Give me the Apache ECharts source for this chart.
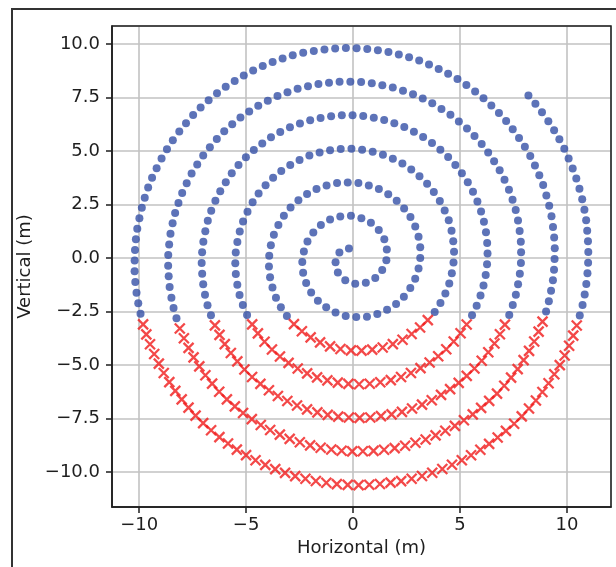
<!DOCTYPE html>
<html>
<head>
<meta charset="utf-8">
<script src="https://cdn.jsdelivr.net/npm/echarts@6/dist/echarts.min.js"></script>
<style>
    html, body { margin: 0; padding: 0; background: #fff; }
    #chart { width: 616px; height: 567px; }
</style>
</head>
<body>
<div id="chart"></div>
<script>
    // spiral path samples: angle (rad, anticlockwise from +x, not wrapped) and radius (m)
    const pathAngle = [
        1.975, 2.751, 3.372, 3.903, 4.372, 4.797, 5.189, 5.556, 5.899, 6.224,
        6.534, 6.829, 7.113, 7.386, 7.649, 7.904, 8.151, 8.391, 8.624, 8.852,
        9.073, 9.290, 9.501, 9.708, 9.911, 10.110, 10.305, 10.496, 10.684, 10.869,
        11.050, 11.229, 11.405, 11.578, 11.749, 11.918, 12.084, 12.247, 12.409, 12.569,
        12.726, 12.882, 13.036, 13.188, 13.338, 13.487, 13.634, 13.780, 13.924, 14.066,
        14.207, 14.347, 14.486, 14.623, 14.759, 14.894, 15.027, 15.159, 15.290, 15.420,
        15.551, 15.680, 15.807, 15.933, 16.058, 16.182, 16.305, 16.427, 16.548, 16.668,
        16.787, 16.906, 17.024, 17.141, 17.256, 17.370, 17.485, 17.599, 17.712, 17.824,
        17.936, 18.047, 18.157, 18.267, 18.376, 18.484, 18.592, 18.699, 18.806, 18.912,
        19.017, 19.122, 19.226, 19.330, 19.433, 19.536, 19.638, 19.739, 19.840, 19.940,
        20.040, 20.139, 20.238, 20.337, 20.435, 20.533, 20.630, 20.727, 20.823, 20.919,
        21.014, 21.109, 21.203, 21.297, 21.391, 21.484, 21.577, 21.669, 21.761, 21.853,
        21.944, 22.035, 22.126, 22.216, 22.306, 22.394, 22.483, 22.572, 22.660, 22.748,
        22.836, 22.923, 23.010, 23.097, 23.183, 23.269, 23.355, 23.440, 23.525, 23.610,
        23.694, 23.778, 23.862, 23.946, 24.029, 24.112, 24.195, 24.277, 24.359, 24.441,
        24.523, 24.604, 24.685, 24.766, 24.847, 24.927, 25.007, 25.087, 25.167, 25.246,
        25.325, 25.404, 25.483, 25.561, 25.639, 25.717, 25.795, 25.872, 25.949, 26.026,
        26.103, 26.179, 26.255, 26.331, 26.407, 26.482, 26.557, 26.632, 26.707, 26.782,
        26.857, 26.931, 27.005, 27.079, 27.153, 27.227, 27.300, 27.373, 27.446, 27.519,
        27.592, 27.664, 27.736, 27.808, 27.880, 27.952, 28.023, 28.094, 28.165, 28.236,
        28.306, 28.377, 28.447, 28.517, 28.587, 28.657, 28.727, 28.796, 28.865, 28.934,
        29.003, 29.072, 29.141, 29.210, 29.278, 29.346, 29.414, 29.482, 29.550, 29.618,
        29.685, 29.752, 29.819, 29.886, 29.953, 30.020, 30.087, 30.153, 30.219, 30.285,
        30.351, 30.417, 30.483, 30.548, 30.613, 30.678, 30.743, 30.808, 30.873, 30.938,
        31.003, 31.067, 31.131, 31.195, 31.259, 31.323, 31.387, 31.451, 31.514, 31.577,
        31.641, 31.704, 31.767, 31.830, 31.893, 31.956, 32.018, 32.080, 32.142, 32.204,
        32.266, 32.328, 32.390, 32.452, 32.514, 32.575, 32.636, 32.697, 32.758, 32.819,
        32.880, 32.941, 33.002, 33.063, 33.123, 33.183, 33.243, 33.303, 33.363, 33.423,
        33.483, 33.543, 33.603, 33.662, 33.721, 33.780, 33.839, 33.898, 33.957, 34.016,
        34.075, 34.134, 34.193, 34.251, 34.309, 34.367, 34.425, 34.483, 34.541, 34.599,
        34.656, 34.714, 34.772, 34.829, 34.886, 34.943, 35.000, 35.057, 35.114, 35.171,
        35.228, 35.285, 35.342, 35.399, 35.455, 35.511, 35.567, 35.623, 35.679, 35.735,
        35.791, 35.847, 35.903, 35.959, 36.015, 36.069, 36.124, 36.179, 36.234, 36.289,
        36.344, 36.399, 36.454, 36.509, 36.564, 36.619, 36.674, 36.728, 36.782, 36.836,
        36.890, 36.944, 36.998, 37.052, 37.106, 37.160, 37.214, 37.268, 37.322, 37.376,
        37.430, 37.483, 37.536, 37.589, 37.642, 37.695, 37.748, 37.801, 37.854, 37.907,
        37.960, 38.013, 38.066, 38.118, 38.170, 38.222, 38.274, 38.326, 38.378, 38.430,
        38.482, 38.534, 38.586, 38.638, 38.690, 38.742, 38.794, 38.845, 38.896, 38.947,
        38.998, 39.049, 39.100, 39.151, 39.202, 39.253, 39.304, 39.355, 39.406, 39.457,
        39.508, 39.559, 39.609, 39.659, 39.709, 39.759, 39.809, 39.859, 39.909, 39.960,
        40.011, 40.061, 40.111, 40.161, 40.211, 40.261, 40.311, 40.361, 40.411, 40.460,
        40.509, 40.558, 40.607, 40.656, 40.705, 40.754, 40.803, 40.852, 40.901, 40.950,
        40.999, 41.048, 41.097, 41.146, 41.194, 41.242, 41.290, 41.338, 41.386, 41.434,
        41.482, 41.530, 41.578, 41.626, 41.674, 41.722, 41.770, 41.818, 41.866, 41.914,
        41.962, 42.010, 42.058, 42.105, 42.152, 42.199, 42.246, 42.293, 42.340, 42.388,
        42.436, 42.483, 42.530, 42.577, 42.624, 42.671, 42.718, 42.765, 42.812, 42.858,
        42.905, 42.951, 42.998, 43.044, 43.090, 43.136, 43.183, 43.229, 43.275, 43.321,
        43.367, 43.413, 43.459, 43.505, 43.551, 43.597, 43.644, 43.690, 43.735, 43.781,
        43.827, 43.872, 43.918, 43.963, 44.008, 44.054, 44.099, 44.144, 44.189, 44.234,
        44.280, 44.325, 44.370, 44.415, 44.460, 44.505, 44.549, 44.594, 44.640, 44.685,
        44.730
    ];
    const pathRadius = [
        0.49, 0.69, 0.84, 0.98, 1.09, 1.20, 1.30, 1.39, 1.47, 1.56,
        1.63, 1.71, 1.78, 1.85, 1.91, 1.98, 2.04, 2.10, 2.16, 2.21,
        2.27, 2.32, 2.38, 2.43, 2.48, 2.53, 2.58, 2.62, 2.67, 2.72,
        2.76, 2.81, 2.85, 2.89, 2.94, 2.98, 3.02, 3.06, 3.10, 3.14,
        3.18, 3.22, 3.26, 3.30, 3.33, 3.37, 3.41, 3.45, 3.48, 3.52,
        3.55, 3.59, 3.62, 3.66, 3.69, 3.72, 3.76, 3.79, 3.82, 3.86,
        3.89, 3.92, 3.95, 3.98, 4.01, 4.05, 4.08, 4.11, 4.14, 4.17,
        4.20, 4.23, 4.26, 4.29, 4.31, 4.34, 4.37, 4.40, 4.43, 4.46,
        4.48, 4.51, 4.54, 4.57, 4.59, 4.62, 4.65, 4.67, 4.70, 4.73,
        4.75, 4.78, 4.81, 4.83, 4.86, 4.88, 4.91, 4.93, 4.96, 4.99,
        5.01, 5.03, 5.06, 5.08, 5.11, 5.13, 5.16, 5.18, 5.21, 5.23,
        5.25, 5.28, 5.30, 5.32, 5.35, 5.37, 5.39, 5.42, 5.44, 5.46,
        5.49, 5.51, 5.53, 5.55, 5.58, 5.60, 5.62, 5.64, 5.67, 5.69,
        5.71, 5.73, 5.75, 5.77, 5.80, 5.82, 5.84, 5.86, 5.88, 5.90,
        5.92, 5.94, 5.97, 5.99, 6.01, 6.03, 6.05, 6.07, 6.09, 6.11,
        6.13, 6.15, 6.17, 6.19, 6.21, 6.23, 6.25, 6.27, 6.29, 6.31,
        6.33, 6.35, 6.37, 6.39, 6.41, 6.43, 6.45, 6.47, 6.49, 6.51,
        6.53, 6.54, 6.56, 6.58, 6.60, 6.62, 6.64, 6.66, 6.68, 6.70,
        6.71, 6.73, 6.75, 6.77, 6.79, 6.81, 6.83, 6.84, 6.86, 6.88,
        6.90, 6.92, 6.93, 6.95, 6.97, 6.99, 7.01, 7.02, 7.04, 7.06,
        7.08, 7.09, 7.11, 7.13, 7.15, 7.16, 7.18, 7.20, 7.22, 7.23,
        7.25, 7.27, 7.29, 7.30, 7.32, 7.34, 7.35, 7.37, 7.39, 7.40,
        7.42, 7.44, 7.45, 7.47, 7.49, 7.50, 7.52, 7.54, 7.55, 7.57,
        7.59, 7.60, 7.62, 7.64, 7.65, 7.67, 7.69, 7.70, 7.72, 7.73,
        7.75, 7.77, 7.78, 7.80, 7.81, 7.83, 7.85, 7.86, 7.88, 7.89,
        7.91, 7.93, 7.94, 7.96, 7.97, 7.99, 8.00, 8.02, 8.04, 8.05,
        8.07, 8.08, 8.10, 8.11, 8.13, 8.14, 8.16, 8.17, 8.19, 8.20,
        8.22, 8.24, 8.25, 8.27, 8.28, 8.30, 8.31, 8.33, 8.34, 8.36,
        8.37, 8.39, 8.40, 8.42, 8.43, 8.45, 8.46, 8.47, 8.49, 8.50,
        8.52, 8.53, 8.55, 8.56, 8.58, 8.59, 8.61, 8.62, 8.64, 8.65,
        8.66, 8.68, 8.69, 8.71, 8.72, 8.74, 8.75, 8.76, 8.78, 8.79,
        8.81, 8.82, 8.84, 8.85, 8.86, 8.88, 8.89, 8.91, 8.92, 8.93,
        8.95, 8.96, 8.98, 8.99, 9.00, 9.02, 9.03, 9.04, 9.06, 9.07,
        9.09, 9.10, 9.11, 9.13, 9.14, 9.15, 9.17, 9.18, 9.20, 9.21,
        9.22, 9.24, 9.25, 9.26, 9.28, 9.29, 9.30, 9.32, 9.33, 9.34,
        9.36, 9.37, 9.38, 9.40, 9.41, 9.42, 9.44, 9.45, 9.46, 9.48,
        9.49, 9.50, 9.52, 9.53, 9.54, 9.56, 9.57, 9.58, 9.59, 9.61,
        9.62, 9.63, 9.65, 9.66, 9.67, 9.69, 9.70, 9.71, 9.72, 9.74,
        9.75, 9.76, 9.78, 9.79, 9.80, 9.81, 9.83, 9.84, 9.85, 9.86,
        9.88, 9.89, 9.90, 9.91, 9.93, 9.94, 9.95, 9.96, 9.98, 9.99,
        10.00, 10.02, 10.03, 10.04, 10.05, 10.07, 10.08, 10.09, 10.10, 10.12,
        10.13, 10.14, 10.15, 10.16, 10.18, 10.19, 10.20, 10.21, 10.23, 10.24,
        10.25, 10.26, 10.27, 10.29, 10.30, 10.31, 10.32, 10.33, 10.35, 10.36,
        10.37, 10.38, 10.39, 10.41, 10.42, 10.43, 10.44, 10.45, 10.47, 10.48,
        10.49, 10.50, 10.51, 10.53, 10.54, 10.55, 10.56, 10.57, 10.59, 10.60,
        10.61, 10.62, 10.63, 10.64, 10.66, 10.67, 10.68, 10.69, 10.70, 10.71,
        10.73, 10.74, 10.75, 10.76, 10.77, 10.78, 10.80, 10.81, 10.82, 10.83,
        10.84, 10.85, 10.86, 10.88, 10.89, 10.90, 10.91, 10.92, 10.93, 10.95,
        10.96, 10.97, 10.98, 10.99, 11.00, 11.01, 11.02, 11.04, 11.05, 11.06,
        11.07, 11.08, 11.09, 11.10, 11.12, 11.13, 11.14, 11.15, 11.16, 11.17,
        11.18
    ];
    // sample index spans (inclusive) drawn as red crosses, the rest are blue dots
    const redSpans = [[68, 82], [127, 151], [206, 240], [305, 349], [423, 477]];

    const xRange = [-11.27, 12.06];
    const yRange = [-11.63, 10.85];
    const xStep = 5;
    const yStep = 2.5;
    const rMax = 12;

    const box = {left: 112, top: 26, width: 499, height: 481};
    const pxX = box.width / (xRange[1] - xRange[0]);
    const pxY = box.height / (yRange[1] - yRange[0]);
    const cx = box.left - xRange[0] * pxX;
    const cy = box.top + yRange[1] * pxY;

    const blue = [];
    const red = [];
    pathAngle.forEach(function (a, i) {
        const isRed = redSpans.some(function (s) { return i >= s[0] && i <= s[1]; });
        (isRed ? red : blue).push([pathRadius[i], a]);
    });

    const ink = '#1e1e1e';
    const font = 'DejaVu Sans';
    const minus = function (v) { return v < 0 ? '\u2212' : ''; };
    const onStep = function (v, step) {
        const k = v / step;
        return Math.abs(k - Math.round(k)) < 1e-6;
    };

    const axisCommon = {
        type: 'value',
        axisLine: {show: true, onZero: false, lineStyle: {color: ink, width: 1.5}},
        axisTick: {show: true, inside: false, length: 6, lineStyle: {color: ink, width: 1.5}},
        splitLine: {show: true, lineStyle: {color: '#c2c2c2', width: 1.6}},
        nameLocation: 'middle',
        nameTextStyle: {color: ink, fontSize: 18, fontFamily: font}
    };

    const chart = echarts.init(document.getElementById('chart'), null, {renderer: 'canvas'});
    chart.setOption({
        animation: false,
        backgroundColor: '#fff',
        grid: {left: box.left, top: box.top, width: box.width, height: box.height, show: false},
        xAxis: Object.assign({}, axisCommon, {
            min: xRange[0], max: xRange[1],
            splitNumber: 5, minInterval: xStep, maxInterval: xStep,
            name: 'Horizontal (m)', nameGap: 32,
            axisLabel: {
                color: ink, fontSize: 18, fontFamily: font, margin: 9,
                showMinLabel: false, showMaxLabel: false,
                formatter: function (v) { return onStep(v, xStep) ? minus(v) + Math.abs(v) : ''; }
            }
        }),
        yAxis: Object.assign({}, axisCommon, {
            min: yRange[0], max: yRange[1],
            splitNumber: 9, minInterval: yStep, maxInterval: yStep,
            name: 'Vertical (m)', nameGap: 74,
            axisLabel: {
                color: ink, fontSize: 18, fontFamily: font, margin: 12,
                showMinLabel: false, showMaxLabel: false,
                formatter: function (v) { return onStep(v, yStep) ? minus(v) + Math.abs(v).toFixed(1) : ''; }
            }
        }),
        polar: {center: [cx, cy], radius: rMax * (pxX + pxY) / 2},
        angleAxis: {type: 'value', min: 0, max: 2 * Math.PI, startAngle: 0, clockwise: false, show: false},
        radiusAxis: {type: 'value', min: 0, max: rMax, show: false},
        graphic: [
            {
                type: 'rect', z: 100, silent: true,
                shape: {x: box.left, y: box.top, width: box.width, height: box.height},
                style: {fill: 'none', stroke: ink, lineWidth: 1.5}
            },
            {
                type: 'rect', z: 100, silent: true,
                shape: {x: 12, y: 9, width: 700, height: 700},
                style: {fill: 'none', stroke: '#333', lineWidth: 2}
            }
        ],
        series: [
            {
                type: 'scatter', coordinateSystem: 'polar', clip: false, silent: true,
                symbol: 'circle', symbolSize: 8,
                itemStyle: {color: '#3550a6'},
                data: blue
            },
            {
                type: 'scatter', coordinateSystem: 'polar', clip: false, silent: true,
                symbol: 'path://M0,0L10,10M10,0L0,10', symbolSize: 10,
                itemStyle: {color: 'none', borderColor: '#f01a1a', borderWidth: 2.3},
                data: red
            }
        ]
    });
</script>
</body>
</html>
